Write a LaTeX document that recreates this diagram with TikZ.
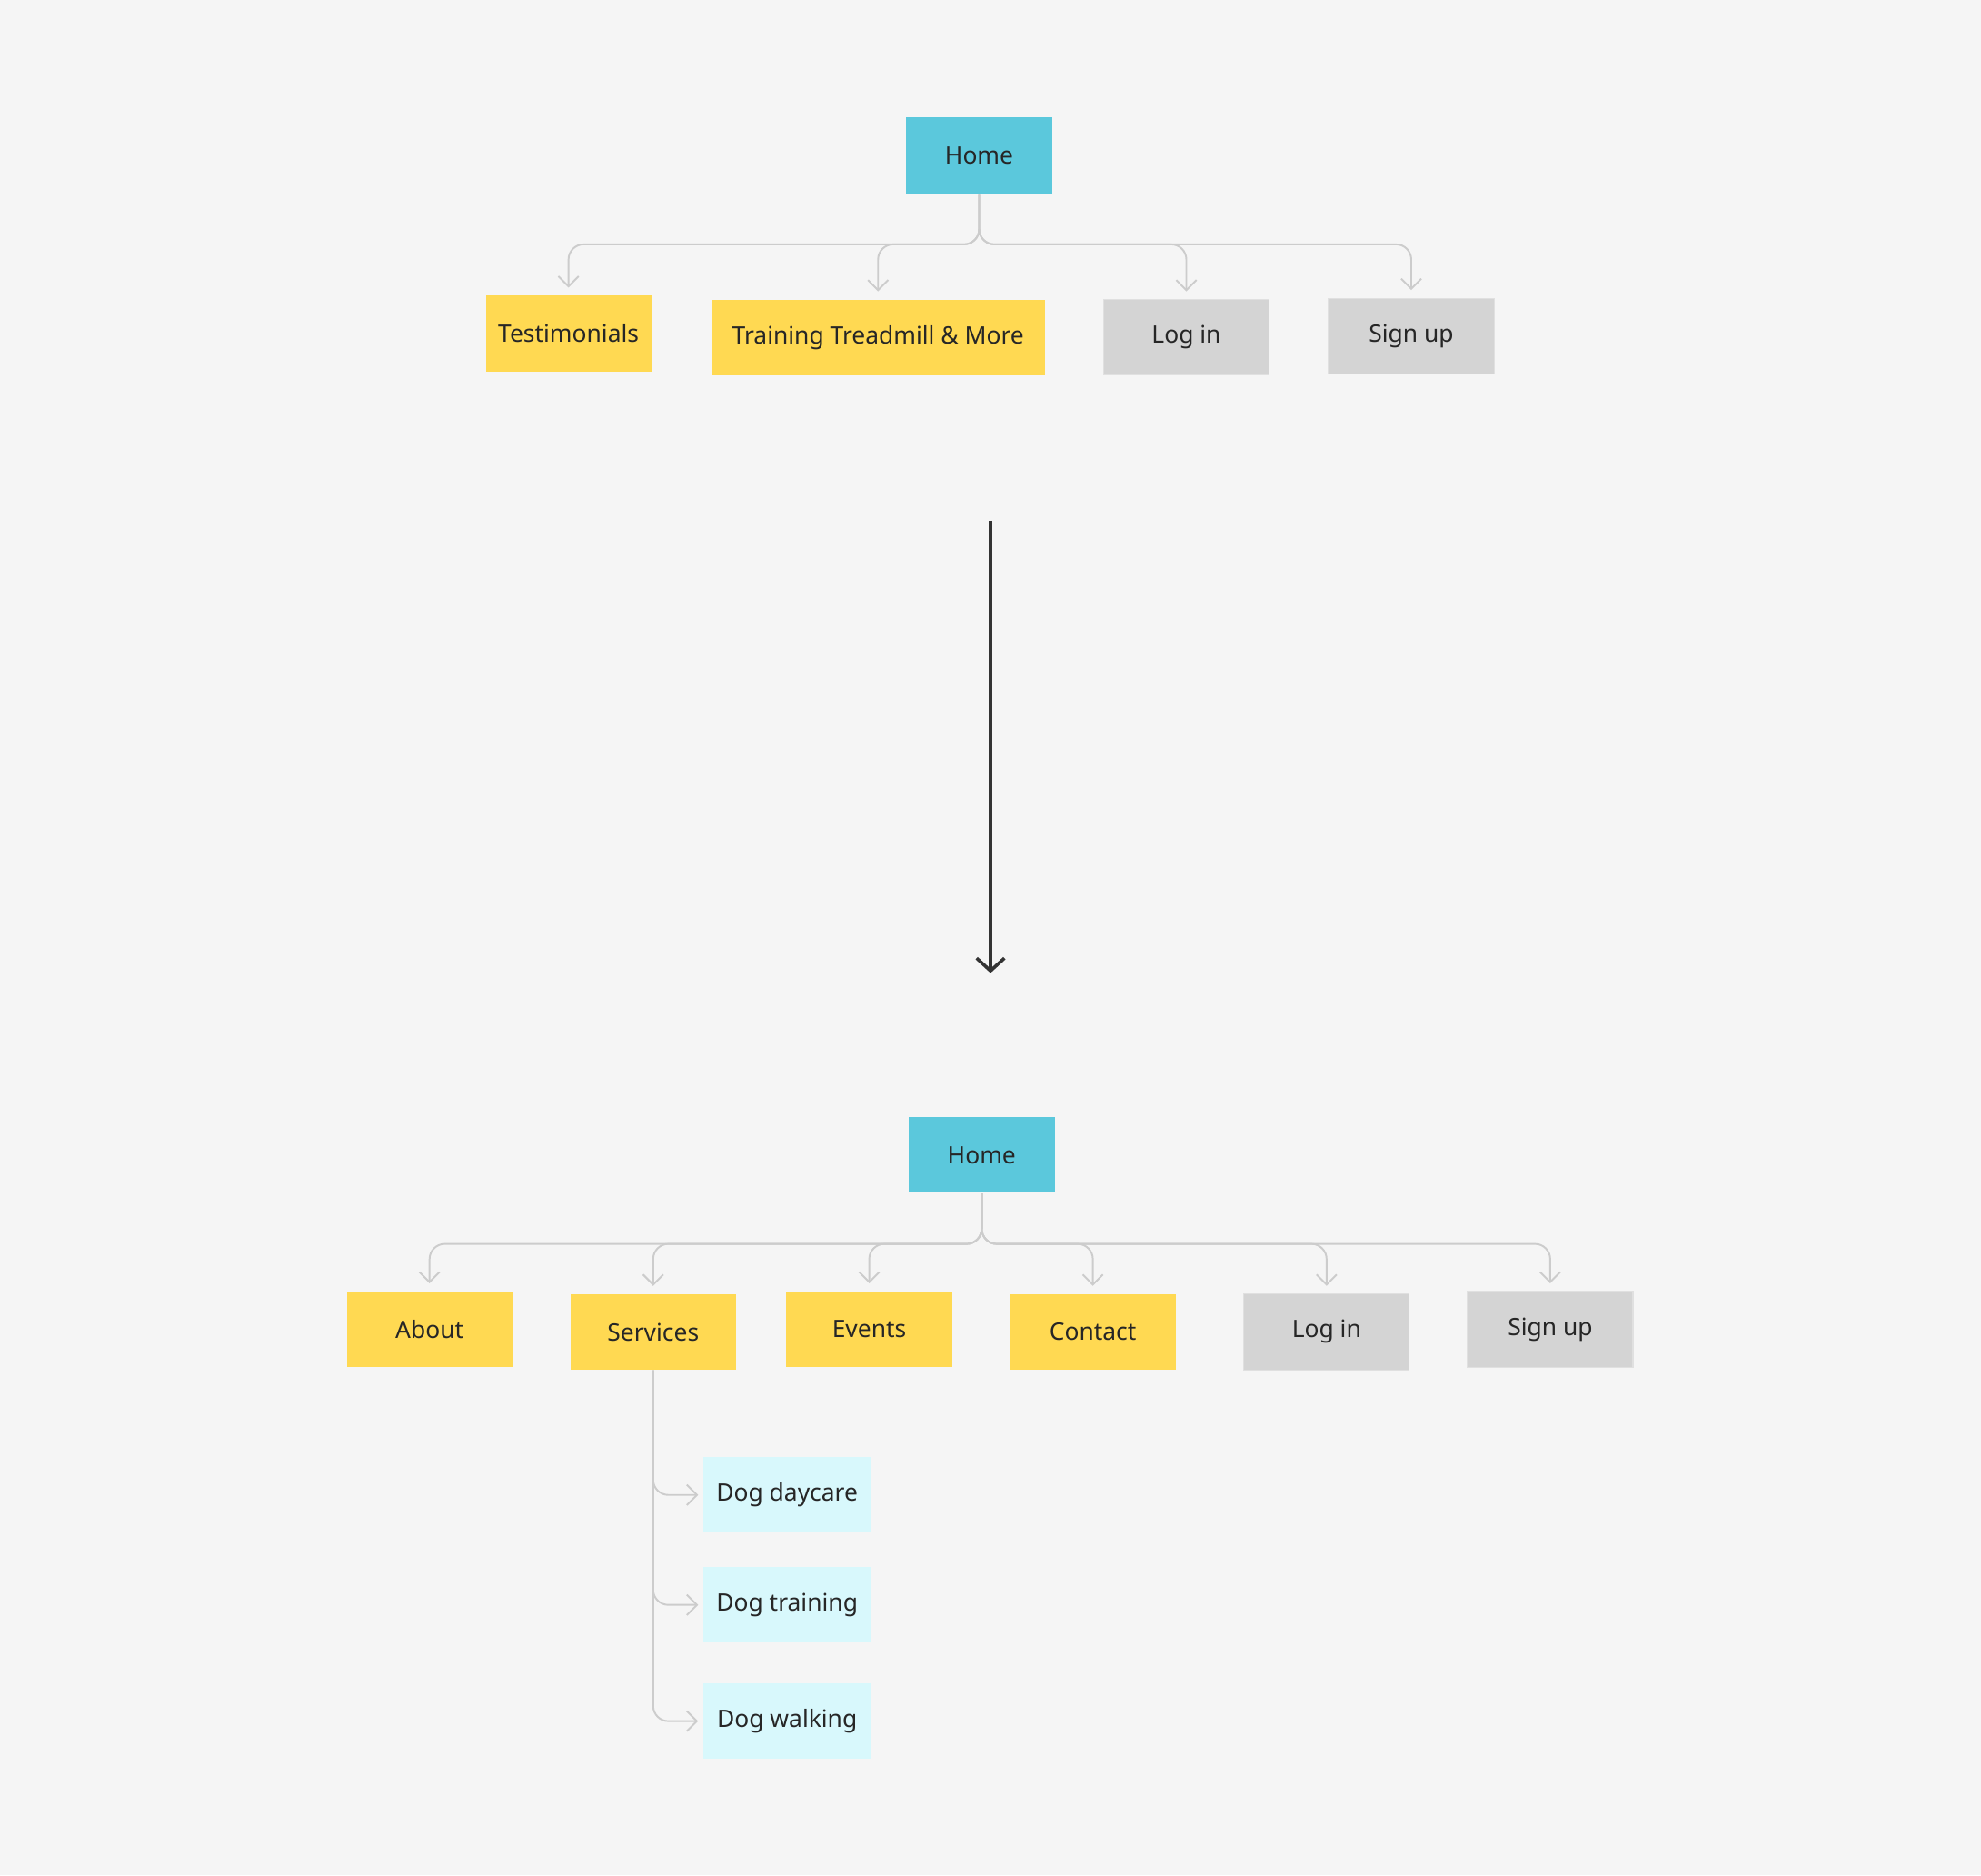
\documentclass[tikz,border=0pt]{standalone}
\usepackage{fontspec}
\setmainfont{Noto Sans}
\usetikzlibrary{arrows.meta}
\definecolor{bg}{HTML}{F5F5F5}
\definecolor{cy}{HTML}{5BC8DC}
\definecolor{ye}{HTML}{FFD952}
\definecolor{gr}{HTML}{D4D4D4}
\definecolor{lc}{HTML}{D8F8FC}
\definecolor{ln}{HTML}{CCCCCC}
\tikzset{
 box/.style={minimum height=30pt,inner sep=0pt,font=\fontsize{9.5}{11}\selectfont,text=black!85},
 cyb/.style={box,fill=cy,minimum width=58pt},
 yeb/.style={box,fill=ye,minimum width=65.5pt},
 grb/.style={box,fill=gr,draw=black!12,minimum width=65.5pt},
 lcb/.style={box,fill=lc,minimum width=66pt},
 conn/.style={draw=ln,line width=0.7pt,rounded corners=6pt,-{Straight Barb[length=4pt,width=8pt]}},
}
\begin{document}
\begin{tikzpicture}[x=0.5pt,y=-0.5pt]
\fill[bg] (0,0) rectangle (1568,1484);
\useasboundingbox (0,0) rectangle (1568,1484);
\node[cyb] (h1) at (775,123) {Home};
\node[yeb] (t) at (450,264) {Testimonials};
\node[yeb,minimum width=132pt] (tr) at (695,267) {Training Treadmill \& More};
\node[grb] (l1) at (939,267) {Log in};
\node[grb] (s1) at (1117,266) {Sign up};
\foreach \n in {t,tr,l1,s1} \draw[conn] (h1.south) -- ++(0,40) -| ([yshift=3pt]\n.north);
\coordinate (a1) at (784,412); \coordinate (a2) at (784,770);
\draw[line width=1.3pt,black!80,-{Straight Barb[length=5pt,width=11pt]}] (a1) -- (a2);
\node[cyb] (h2) at (777,914) {Home};
\node[yeb] (ab) at (340,1052) {About};
\node[yeb] (se) at (517,1054) {Services};
\node[yeb] (ev) at (688,1052) {Events};
\node[yeb] (co) at (865,1054) {Contact};
\node[grb] (l2) at (1050,1054) {Log in};
\node[grb] (s2) at (1227,1052) {Sign up};
\foreach \n in {ab,se,ev,co,l2,s2} \draw[conn] (h2.south) -- ++(0,40) -| ([yshift=3pt]\n.north);
\node[lcb] (d1) at (623,1183) {Dog daycare};
\node[lcb] (d2) at (623,1270) {Dog training};
\node[lcb] (d3) at (623,1362) {Dog walking};
\foreach \n in {d1,d2,d3} \draw[conn] (se.south) |- ([xshift=-2pt]\n.west);
\end{tikzpicture}
\end{document}
